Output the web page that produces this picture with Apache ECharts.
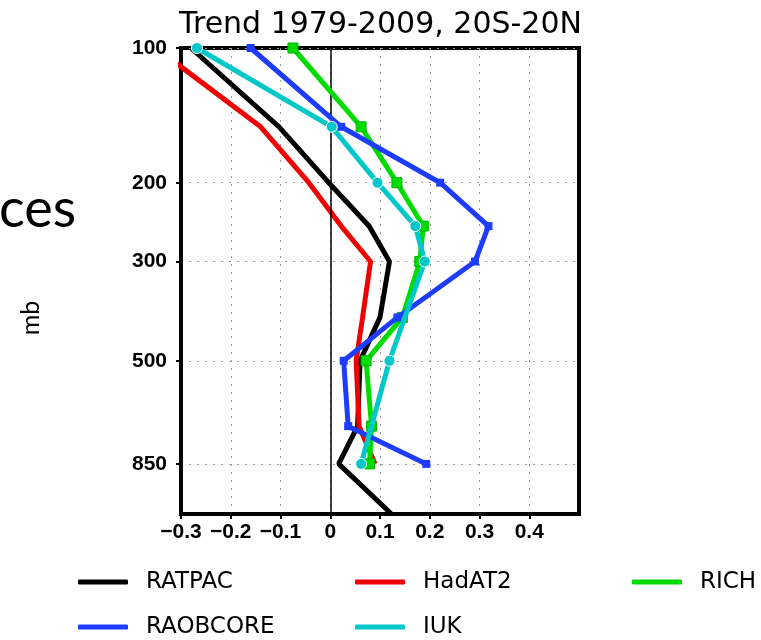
<!DOCTYPE html>
<html>
<head>
<meta charset="utf-8">
<style>
  html, body { margin: 0; padding: 0; background: #fff; }
  #chart { width: 761px; height: 640px; }
</style>
<script src="https://cdn.jsdelivr.net/npm/echarts@6/dist/echarts.min.js"></script>
</head>
<body>
<div id="chart"></div>
<script>
// Pressure levels (mb); the last one is the surface at the foot of the plot
const plev = [100, 150, 200, 250, 300, 400, 500, 700, 850, 1100];

// Temperature trends (K/decade), 1979-2009, 20S-20N
const ratpac   = [-0.28, -0.103, -0.003, 0.078, 0.119, 0.100, 0.060, 0.055, 0.017, 0.123];
const hadat2   = [-0.35, -0.140, -0.043, 0.022, 0.081, 0.065, 0.052, 0.058, 0.090, null];
const rich     = [-0.075, 0.062, 0.134, 0.187, 0.180, 0.145, 0.072, 0.083, 0.079, null];
const raobcore = [-0.16, 0.022, 0.221, 0.318, 0.291, 0.135, 0.027, 0.036, 0.193, null];
const iuk      = [-0.268, 0.003, 0.095, 0.171, 0.190, null, 0.119, null, 0.062, null];

const seriesNames = ['RATPAC', 'HadAT2', 'RICH', 'RAOBCORE', 'IUK'];
const seriesColors = ['#000000', '#f00000', '#00dc00', '#1e3cff', '#00c8c8'];

// Axis tick labels
const pressureTicks = [100, 200, 300, 500, 850];
const trendTicks = [-0.3, -0.2, -0.1, 0, 0.1, 0.2, 0.3, 0.4];

const FONT = 'Liberation Sans';
const TEXT_FONT = 'DejaVu Sans';
const lg = Math.log10;

function pairs(values) {
  return values.map((v, i) => [v, lg(plev[i])]);
}

function fmtTrend(v) {
  if (Math.abs(v) < 1e-9) return '0';
  return (v < 0 ? '\u2212' : '') + Math.abs(v).toFixed(1);
}

const chart = echarts.init(document.getElementById('chart'), null, { renderer: 'canvas' });

function lineSeries(idx, values, symbolOpt) {
  const s = {
    name: seriesNames[idx],
    type: 'line',
    data: pairs(values),
    connectNulls: true,
    clip: true,
    color: seriesColors[idx],
    lineStyle: { color: seriesColors[idx], width: 5 },
    symbol: 'none',
    z: 3 + idx
  };
  return Object.assign(s, symbolOpt || {});
}

const series = [
  lineSeries(0, ratpac, {
    markLine: {
      silent: true,
      symbol: 'none',
      label: { show: false },
      lineStyle: { color: '#000', width: 1.5, type: 'solid' },
      data: [{ xAxis: 0 }],
      animation: false
    }
  }),
  lineSeries(1, hadat2),
  lineSeries(2, rich, {
    symbol: 'rect', symbolSize: 10, showSymbol: true,
    itemStyle: { color: seriesColors[2], borderColor: '#00b400', borderWidth: 1 }
  }),
  lineSeries(3, raobcore, {
    symbol: 'rect', symbolSize: 8, showSymbol: true,
    itemStyle: { color: seriesColors[3] }
  }),
  lineSeries(4, iuk, {
    symbol: 'circle', symbolSize: 11, showSymbol: true,
    itemStyle: { color: seriesColors[4], borderColor: '#ffffff', borderWidth: 1 }
  })
];

// Legend laid out on a 3-column grid
const legendSlots = [
  { name: 'RATPAC', left: 78, top: 570 },
  { name: 'HadAT2', left: 355, top: 570 },
  { name: 'RICH', left: 632, top: 570 },
  { name: 'RAOBCORE', left: 78, top: 615 },
  { name: 'IUK', left: 355, top: 615 }
];
const legends = legendSlots.map((s) => ({
  data: [{ name: s.name, itemStyle: { color: seriesColors[seriesNames.indexOf(s.name)], borderWidth: 0 } }],
  left: s.left,
  top: s.top,
  padding: 0,
  icon: 'roundRect',
  itemWidth: 50,
  itemHeight: 5,
  selectedMode: false,
  itemStyle: { borderWidth: 0 },
  textStyle: {
    fontFamily: TEXT_FONT, fontSize: 23, color: '#000', lineHeight: 24,
    padding: [0, 0, 0, 13]
  }
}));

chart.setOption({
  animation: false,
  backgroundColor: '#ffffff',
  title: {
    text: 'Trend 1979-2009, 20S-20N',
    left: 'center',
    top: 10,
    padding: 0,
    textStyle: { fontFamily: TEXT_FONT, fontSize: 30, fontWeight: 'normal', color: '#000' }
  },
  legend: legends,
  grid: {
    left: 181, right: 182, top: 48, bottom: 126,
    show: true, borderColor: '#000', borderWidth: 4, backgroundColor: 'transparent'
  },
  xAxis: {
    type: 'value',
    min: -0.3, max: 0.5,
    axisLine: { show: true, onZero: false, lineStyle: { color: '#000', width: 4 } },
    axisTick: { show: true, customValues: trendTicks, length: 5, lineStyle: { color: '#000', width: 2 } },
    axisLabel: {
      customValues: trendTicks,
      formatter: fmtTrend,
      margin: 8,
      fontFamily: FONT, fontSize: 21, fontWeight: 'bold', color: '#000'
    },
    splitLine: { show: true, lineStyle: { color: '#9a9a9a', width: 1, type: [2, 6] } }
  },
  yAxis: {
    type: 'value',
    inverse: true,
    min: lg(100), max: lg(1100),
    axisLine: { show: true, onZero: false, lineStyle: { color: '#000', width: 3 } },
    axisTick: { show: true, customValues: pressureTicks.map(lg), length: 5, lineStyle: { color: '#000', width: 2 } },
    axisLabel: {
      customValues: pressureTicks.map(lg),
      formatter: v => String(Math.round(Math.pow(10, v))),
      margin: 14,
      fontFamily: FONT, fontSize: 21, fontWeight: 'bold', color: '#000'
    },
    splitLine: { show: true, lineStyle: { color: '#9a9a9a', width: 1, type: [2, 6] } }
  },
  graphic: [
    {
      type: 'text', left: -1, top: 183,
      style: { text: 'ces', font: '54px Lato', fill: '#000' }
    },
    {
      type: 'text', x: 43, y: 318, rotation: Math.PI / 2,
      style: { text: 'mb', font: '25px Lato', fill: '#000', align: 'center', verticalAlign: 'bottom' }
    }
  ],
  series: series
});
</script>
</body>
</html>
